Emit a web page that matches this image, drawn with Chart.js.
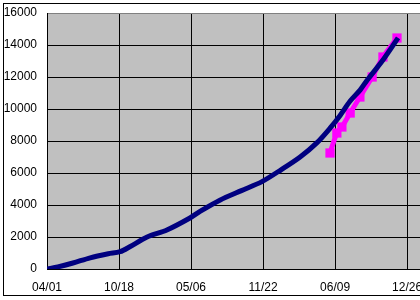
<!DOCTYPE html>
<html>
<head>
<meta charset="utf-8">
<script src="https://cdn.jsdelivr.net/npm/chart.js@4/dist/chart.umd.min.js"></script>
<style>
html,body{margin:0;padding:0;background:#fff;}
#wrap{width:420px;height:300px;overflow:hidden;position:relative;}
#inner{width:460px;height:300px;}
canvas{display:block;}
</style>
</head>
<body>
<div id="wrap"><div id="inner"><canvas id="c" width="460" height="300"></canvas></div></div>
<script>
// x values are days since the first date label (04/01)
const tickDays = [0, 200, 400, 600, 800, 1000];
const tickLabels = ["04/01", "10/18", "05/06", "11/22", "06/09", "12/26"];
const yTicks = [0, 2000, 4000, 6000, 8000, 10000, 12000, 14000, 16000];

const blueDays   = [0, 30, 72, 120, 170, 203, 230, 278, 333, 397, 425, 480, 540, 597, 650, 703, 750, 786, 814, 842, 870, 889, 933, 975];
const blueValues = [0, 130, 375, 700, 950, 1081, 1390, 2000, 2440, 3190, 3600, 4300, 4900, 5460, 6200, 7000, 7900, 8800, 9600, 10500, 11200, 11800, 13060, 14440];

const pinkDays   = [786, 805, 819, 842, 869, 903, 933, 972];
const pinkValues = [7250, 8500, 8875, 9750, 10750, 12000, 13250, 14437];

const toXY = (xs, ys) => xs.map((x, i) => ({x: x, y: ys[i]}));

const bgPlugin = {
  id: 'bg',
  beforeDraw(chart) {
    const {ctx, chartArea: a} = chart;
    ctx.save();
    ctx.fillStyle = '#fff';
    ctx.fillRect(0, 0, chart.width, chart.height);
    ctx.fillStyle = '#c0c0c0';
    ctx.fillRect(a.left, a.top, a.right - a.left, a.bottom - a.top);
    ctx.restore();
  },
  afterDraw(chart) {
    const {ctx} = chart;
    ctx.save();
    ctx.strokeStyle = '#000';
    ctx.lineWidth = 1;
    ctx.strokeRect(3.5, 3.5, 600, 292);
    ctx.restore();
  }
};

const font = {family: "'Liberation Sans', sans-serif", size: 12};

new Chart(document.getElementById('c'), {
  type: 'scatter',
  data: {
    datasets: [
      {
        data: toXY(blueDays, blueValues),
        showLine: true,
        borderColor: '#000080',
        backgroundColor: '#000080',
        borderWidth: 5,
        pointRadius: 0,
        tension: 0.3
      },
      {
        data: toXY(pinkDays, pinkValues),
        showLine: true,
        borderColor: '#ff00ff',
        backgroundColor: '#ff00ff',
        borderWidth: 5,
        pointStyle: 'rect',
        pointRadius: 3,
        tension: 0.2
      }
    ]
  },
  options: {
    responsive: false,
    animation: false,
    events: [],
    layout: {padding: {top: 13, left: 0, right: 0, bottom: 0}},
    plugins: {legend: {display: false}, tooltip: {enabled: false}},
    scales: {
      x: {
        type: 'linear',
        min: 0,
        max: 1122,
        afterBuildTicks(scale) { scale.ticks = tickDays.map(v => ({value: v})); },
        afterFit(scale) { scale.height = 31; scale.paddingLeft = 0; scale.paddingRight = 0; },
        ticks: {
          color: '#000',
          font: font,
          padding: 0,
          maxRotation: 0,
          autoSkip: false,
          callback: (v) => tickLabels[tickDays.indexOf(v)]
        },
        grid: {color: '#000', lineWidth: 1, drawTicks: true, tickLength: 11, tickColor: 'rgba(0,0,0,0)'},
        border: {color: '#000', width: 1}
      },
      y: {
        min: 0,
        max: 16000,
        afterBuildTicks(scale) { scale.ticks = yTicks.map(v => ({value: v})); },
        afterFit(scale) { scale.width = 47; scale.paddingTop = 0; scale.paddingBottom = 0; },
        ticks: {color: '#000', font: font, padding: 10, callback: (v) => String(v)},
        grid: {
          color: (c) => (c.tick && c.tick.value === 16000) ? '#808080' : '#000',
          lineWidth: 1,
          drawTicks: false
        },
        border: {color: '#000', width: 1}
      }
    }
  },
  plugins: [bgPlugin]
});
</script>
</body>
</html>
